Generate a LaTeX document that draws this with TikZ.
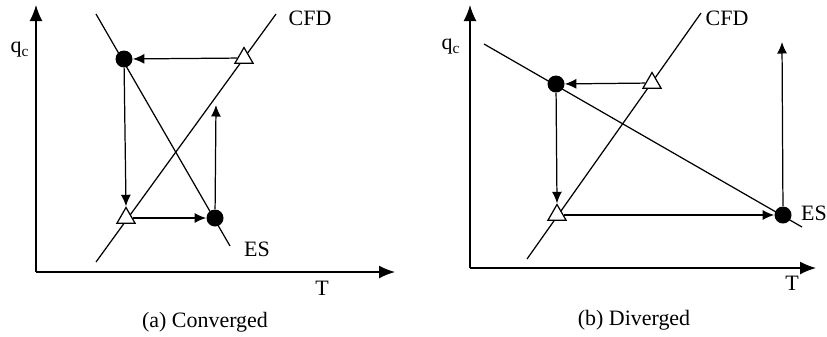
\documentclass[tikz,border=0pt]{standalone}
\usepackage{fontspec}
\setmainfont{Liberation Serif}
\usetikzlibrary{arrows.meta,shapes.geometric,backgrounds}
\tikzset{
  every node/.style={font=\fontsize{12.5}{15}\selectfont},
  dot/.style={circle, fill=black, inner sep=0pt, minimum size=0.34cm},
  tri/.style={regular polygon, regular polygon sides=3, draw=black, fill=white,
              line width=0.7pt, inner sep=0pt, minimum size=0.42cm},
  curve/.style={line width=0.7pt, draw=black},
  arr/.style={-{Latex[length=2.3mm, width=2mm]}, line width=0.7pt},
  axis/.style={-{Latex[length=3.2mm, width=2.6mm]}, line width=0.8pt},
  lbl/.style={inner sep=0pt},
}

\begin{document}
\begin{tikzpicture}[x=0.02cm, y=-0.02cm]
\useasboundingbox (0,0) rectangle (827,336);

% (a) converged
\coordinate (oa) at (36,272);
\coordinate (ya) at (36,5);
\coordinate (xa) at (395,272);
\coordinate (esa1) at (96,14);
\coordinate (esa2) at (230,246);
\coordinate (cfda1) at (96,262);
\coordinate (cfda2) at (276,14);
\coordinate (upa) at (216,105);

\node[dot] (d1) at (124,59) {};
\node[tri] (t1) at (244,58) {};
\node[tri] (t2) at (126,218) {};
\node[dot] (d2) at (215,218) {};

\begin{scope}[on background layer]
\draw[curve] (esa1) -- (esa2);
\draw[curve] (cfda1) -- (cfda2);
\end{scope}

\draw[axis] (oa) -- (ya);
\draw[axis] (oa) -- (xa);
\draw[arr] (t1) -- (d1);
\draw[arr] (d1) -- (t2.north);
\draw[arr] (t2) -- (d2);
\draw[arr] (d2) -- (upa);

\node[lbl] (qa) at (20,50) {q\textsubscript{c}};
\node[lbl] (Ta) at (322,288) {T};
\node[lbl] (cfdla) at (310,18) {CFD};
\node[lbl] (esla) at (257,249) {ES};
\node[lbl] (capa) at (205,322) {(a) Converged};

% (b) diverged
\coordinate (ob) at (470,268);
\coordinate (yb) at (470,5);
\coordinate (xb) at (816,268);
\coordinate (esb1) at (484,44);
\coordinate (esb2) at (802,227);
\coordinate (cfdb1) at (527,259);
\coordinate (cfdb2) at (701,13);
\coordinate (upb) at (782,42);

\node[dot] (d3) at (556,84) {};
\node[tri] (t3) at (652,83) {};
\node[tri] (t4) at (557,215) {};
\node[dot] (d4) at (783,215) {};

\begin{scope}[on background layer]
\draw[curve] (esb1) -- (esb2);
\draw[curve] (cfdb1) -- (cfdb2);
\end{scope}

\draw[axis] (ob) -- (yb);
\draw[axis] (ob) -- (xb);
\draw[arr] (t3) -- (d3);
\draw[arr] (d3) -- (t4.north);
\draw[arr] (t4) -- (d4);
\draw[arr] (d4) -- (upb);

\node[lbl] (qb) at (451,47) {q\textsubscript{c}};
\node[lbl] (Tb) at (792,283) {T};
\node[lbl] (cfdlb) at (727,18) {CFD};
\node[lbl] (eslb) at (814,213) {ES};
\node[lbl] (capb) at (634,320) {(b) Diverged};

\end{tikzpicture}
\end{document}
